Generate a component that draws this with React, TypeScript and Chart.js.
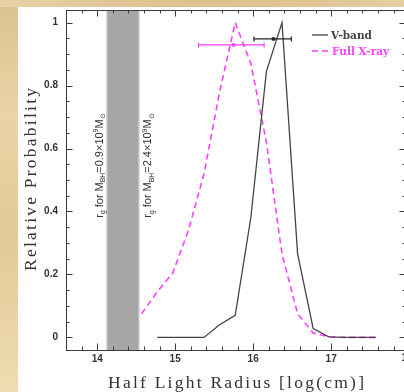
import React, { useEffect, useRef } from "react";
import { Chart, registerables } from "chart.js";

Chart.register(...registerables);

// ---- data ----
const vbandX = [14.77, 14.97, 15.17, 15.37, 15.57, 15.77, 15.97, 16.17, 16.37, 16.57, 16.77, 16.97, 17.17, 17.37, 17.57];
const vbandY = [0, 0, 0, 0, 0.04, 0.07, 0.38, 0.845, 1.0, 0.265, 0.028, 0.002, 0, 0, 0];
const xrayX = [14.57, 14.77, 14.97, 15.17, 15.37, 15.57, 15.77, 15.97, 16.17, 16.37, 16.57, 16.77, 16.97, 17.17, 17.37, 17.57];
const xrayY = [0.075, 0.145, 0.205, 0.34, 0.52, 0.78, 1.0, 0.87, 0.62, 0.265, 0.075, 0.014, 0.002, 0, 0, 0];
// error bars: [low, centre, high, y]
const vbandErr = [16.01, 16.26, 16.49, 0.948];
const xrayErr = [15.3, 15.75, 16.14, 0.929];
// grey band between the two r_g values
const bandRange = [14.12, 14.54];
const bandLabelY = 0.38;
const xTickValues = [14, 15, 16, 17, 18];
const yTickValues = [0, 0.2, 0.4, 0.6, 0.8, 1];
const xLimits = [13.6, 17.96];
const yLimits = [-0.04, 1.04];
const legendLabels = ["V-band", "Full X-ray"];
const xTitle = "Half Light Radius [log(cm)]";
const yTitle = "Relative Probability";
const bandLabel1: [string, string][] = [["r", "n"], ["g", "sub"], [" for M", "n"], ["BH", "sub"], ["=0.9×10", "n"], ["9", "sup"], ["M", "n"], ["⊙", "sub"]];
const bandLabel2: [string, string][] = [["r", "n"], ["g", "sub"], [" for M", "n"], ["BH", "sub"], ["=2.4×10", "n"], ["9", "sup"], ["M", "n"], ["⊙", "sub"]];

const DARK = "#3a3a3a";
const MAGENTA = "#ff40ff";
const TICK_FONT = 'bold 10px "Liberation Sans", Arial, sans-serif';

function drawSpacedText(ctx: CanvasRenderingContext2D, text: string, x: number, y: number, target: number) {
  (ctx as any).letterSpacing = "0px";
  const w0 = ctx.measureText(text).width;
  const ls = Math.max(0, (target - w0) / Math.max(1, text.length - 1));
  (ctx as any).letterSpacing = ls + "px";
  const w = w0 + ls * (text.length - 1);
  ctx.textAlign = "left";
  ctx.fillText(text, x - w / 2, y);
  (ctx as any).letterSpacing = "0px";
}

function drawRich(ctx: CanvasRenderingContext2D, parts: [string, string][], size: number) {
  let x = 0;
  for (const [t, k] of parts) {
    const s = k === "n" ? size : size * 0.62;
    ctx.font = `${s}px "Liberation Sans", Arial, sans-serif`;
    const dy = k === "sub" ? size * 0.25 : k === "sup" ? -size * 0.42 : 0;
    ctx.fillText(t, x, dy);
    x += ctx.measureText(t).width;
  }
}

const decorPlugin = {
  id: "decor",
  beforeDraw(chart: any) {
    const { ctx, width, height } = chart;
    ctx.save();
    const g = ctx.createLinearGradient(0, 0, 0, height);
    g.addColorStop(0, "#dcc190");
    g.addColorStop(0.3, "#ead4a6");
    g.addColorStop(0.6, "#e3c995");
    g.addColorStop(1, "#efdcb2");
    ctx.fillStyle = g;
    ctx.fillRect(0, 0, width, height);
    const g2 = ctx.createLinearGradient(0, 0, width, 0);
    g2.addColorStop(0, "rgba(240,222,180,0.6)");
    g2.addColorStop(0.5, "rgba(220,190,140,0.3)");
    g2.addColorStop(1, "rgba(235,215,170,0.6)");
    ctx.fillStyle = g2;
    ctx.fillRect(0, 0, width, 7);
    ctx.fillStyle = "#ffffff";
    ctx.fillRect(18, 7, width - 18, height - 7);
    ctx.restore();
  },
  beforeDatasetsDraw(chart: any) {
    const { ctx, chartArea: ca, scales } = chart;
    const xs = scales.x;
    const x0 = xs.getPixelForValue(bandRange[0]);
    const x1 = xs.getPixelForValue(bandRange[1]);
    ctx.save();
    ctx.fillStyle = "#a6a6a6";
    ctx.fillRect(x0, ca.top, x1 - x0, ca.bottom - ca.top);
    ctx.strokeStyle = "#cfcfcf";
    ctx.lineWidth = 1;
    ctx.beginPath();
    ctx.moveTo(x0 + 0.5, ca.top);
    ctx.lineTo(x0 + 0.5, ca.bottom);
    ctx.moveTo(x1 - 0.5, ca.top);
    ctx.lineTo(x1 - 0.5, ca.bottom);
    ctx.stroke();
    ctx.restore();
  },
  afterDraw(chart: any) {
    const { ctx, chartArea: ca, scales } = chart;
    const xs = scales.x;
    const ys = scales.y;
    ctx.save();
    // frame
    ctx.strokeStyle = DARK;
    ctx.lineWidth = 1;
    ctx.strokeRect(Math.round(ca.left) + 0.5, Math.round(ca.top) + 0.5, ca.right - ca.left, ca.bottom - ca.top);
    // ticks
    ctx.beginPath();
    for (let k = 68; k <= 90; k++) {
      const v = k / 5;
      if (v < xLimits[0] || v > xLimits[1]) continue;
      const px = Math.round(xs.getPixelForValue(v)) + 0.5;
      const len = k % 5 === 0 ? 6.5 : 3.5;
      ctx.moveTo(px, ca.bottom);
      ctx.lineTo(px, ca.bottom - len);
      ctx.moveTo(px, ca.top);
      ctx.lineTo(px, ca.top + len);
    }
    for (let k = 0; k <= 20; k++) {
      const v = k / 20;
      const py = Math.round(ys.getPixelForValue(v)) + 0.5;
      const len = k % 4 === 0 ? 6.5 : 3.5;
      ctx.moveTo(ca.left, py);
      ctx.lineTo(ca.left + len, py);
      ctx.moveTo(ca.right, py);
      ctx.lineTo(ca.right - len, py);
    }
    ctx.stroke();

    // outside-range tick label (18)
    ctx.fillStyle = "#333";
    ctx.font = TICK_FONT;
    ctx.textAlign = "center";
    ctx.textBaseline = "middle";
    for (const v of xTickValues) {
      if (v > xLimits[1]) ctx.fillText(String(v), xs.getPixelForValue(v) - 2, 358);
    }

    // error bars
    const errBar = (e: number[], color: string) => {
      const y = ys.getPixelForValue(e[3]);
      const a = xs.getPixelForValue(e[0]);
      const c = xs.getPixelForValue(e[1]);
      const b = xs.getPixelForValue(e[2]);
      ctx.strokeStyle = color;
      ctx.fillStyle = color;
      ctx.lineWidth = 1.2;
      ctx.beginPath();
      ctx.moveTo(a, y);
      ctx.lineTo(b, y);
      ctx.moveTo(a, y - 2.5);
      ctx.lineTo(a, y + 2.5);
      ctx.moveTo(b, y - 2.5);
      ctx.lineTo(b, y + 2.5);
      ctx.stroke();
      ctx.fillRect(c - 1.7, y - 1.7, 3.4, 3.4);
    };
    errBar(xrayErr, MAGENTA);
    errBar(vbandErr, "#222");

    // legend
    ctx.lineWidth = 1.3;
    ctx.strokeStyle = "#444";
    ctx.beginPath();
    ctx.moveTo(312, 35);
    ctx.lineTo(328, 35);
    ctx.stroke();
    ctx.strokeStyle = MAGENTA;
    ctx.lineWidth = 1.6;
    ctx.setLineDash([6, 4]);
    ctx.beginPath();
    ctx.moveTo(312, 51);
    ctx.lineTo(328, 51);
    ctx.stroke();
    ctx.setLineDash([]);
    ctx.font = 'bold 10.5px "DejaVu Serif", serif';
    ctx.textAlign = "left";
    ctx.textBaseline = "alphabetic";
    ctx.fillStyle = "#444";
    ctx.fillText(legendLabels[0], 331, 39);
    ctx.fillStyle = MAGENTA;
    ctx.fillText(legendLabels[1], 332, 55);

    // band labels (rotated)
    ctx.fillStyle = "#333";
    const yStart = ys.getPixelForValue(bandLabelY);
    ctx.save();
    ctx.translate(xs.getPixelForValue(bandRange[0]) - 4, yStart);
    ctx.rotate(-Math.PI / 2);
    drawRich(ctx, bandLabel1, 11);
    ctx.restore();
    ctx.save();
    ctx.translate(xs.getPixelForValue(bandRange[1]) + 12, yStart);
    ctx.rotate(-Math.PI / 2);
    drawRich(ctx, bandLabel2, 11);
    ctx.restore();

    // axis titles
    ctx.fillStyle = "#333";
    ctx.font = '17.5px "Liberation Serif", "Times New Roman", serif';
    ctx.textBaseline = "alphabetic";
    drawSpacedText(ctx, xTitle, 236, 387.5, 256);
    ctx.save();
    ctx.translate(36, 179.5);
    ctx.rotate(-Math.PI / 2);
    drawSpacedText(ctx, yTitle, 0, 0, 183);
    ctx.restore();

    ctx.restore();
  },
};

export default function App() {
  const ref = useRef<HTMLCanvasElement | null>(null);
  useEffect(() => {
    if (!ref.current) return;
    const chart = new Chart(ref.current, {
      type: "line",
      data: {
        datasets: [
          {
            label: legendLabels[0],
            data: vbandX.map((x, i) => ({ x, y: vbandY[i] })),
            borderColor: "#444",
            borderWidth: 1.3,
            pointRadius: 0,
            fill: false,
            tension: 0,
          },
          {
            label: legendLabels[1],
            data: xrayX.map((x, i) => ({ x, y: xrayY[i] })),
            borderColor: MAGENTA,
            borderWidth: 1.6,
            borderDash: [6, 4],
            pointRadius: 0,
            fill: false,
            tension: 0,
          },
        ],
      },
      options: {
        responsive: false,
        animation: false,
        events: [],
        layout: { padding: { top: 10, right: 6, left: 0, bottom: 0 } },
        plugins: { legend: { display: false }, tooltip: { enabled: false } },
        scales: {
          x: {
            type: "linear",
            min: xLimits[0],
            max: xLimits[1],
            grid: { display: false, drawTicks: false, tickLength: 0 },
            border: { display: false },
            ticks: {
              font: { family: '"Liberation Sans", Arial, sans-serif', size: 10, weight: "bold" },
              color: "#333",
              padding: 3,
              autoSkip: false,
              maxRotation: 0,
            },
            afterBuildTicks: (s: any) => {
              s.ticks = xTickValues.filter((v) => v >= xLimits[0] && v <= xLimits[1]).map((v) => ({ value: v }));
            },
            afterFit: (s: any) => {
              s.height = 42;
              s.paddingLeft = 0;
              s.paddingRight = 0;
              s.paddingTop = 0;
              s.paddingBottom = 0;
            },
          },
          y: {
            type: "linear",
            min: yLimits[0],
            max: yLimits[1],
            grid: { display: false, drawTicks: false, tickLength: 0 },
            border: { display: false },
            ticks: {
              font: { family: '"Liberation Sans", Arial, sans-serif', size: 10, weight: "bold" },
              color: "#333",
              padding: 8,
              autoSkip: false,
              callback: (v: any) => String(+Number(v).toFixed(1)),
            },
            afterBuildTicks: (s: any) => {
              s.ticks = yTickValues.map((v) => ({ value: v }));
            },
            afterFit: (s: any) => {
              s.width = 66;
              s.paddingLeft = 0;
              s.paddingRight = 0;
              s.paddingTop = 0;
              s.paddingBottom = 0;
            },
          },
        },
      },
      plugins: [decorPlugin],
    });
    return () => chart.destroy();
  }, []);
  return (
    <div style={{ position: "fixed", left: 0, top: 0, width: 404, height: 392, overflow: "hidden", background: "#e6cf9f" }}>
      <canvas ref={ref} width={412} height={392} style={{ display: "block", width: 412, height: 392 }} />
    </div>
  );
}
